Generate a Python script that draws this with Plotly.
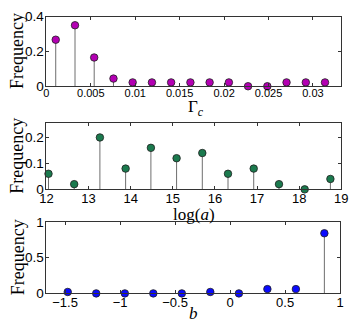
import plotly.graph_objects as go

# ---------------- data ----------------
gamma_c = [0.00105, 0.00322, 0.00538, 0.00755, 0.00971, 0.01188, 0.01404, 0.01621,
           0.01837, 0.02054, 0.02270, 0.02487, 0.02703, 0.02920, 0.03136]
gamma_freq = [0.267, 0.35, 0.165, 0.044, 0.022, 0.022, 0.022, 0.022,
              0.022, 0.022, 0.0, 0.0, 0.022, 0.022, 0.022]

log_a = [12.05, 12.66, 13.27, 13.88, 14.48, 15.09, 15.70, 16.31, 16.92, 17.52, 18.13, 18.74]
log_a_freq = [0.06, 0.02, 0.20, 0.08, 0.16, 0.12, 0.14, 0.06, 0.08, 0.02, 0.0, 0.04]

b_vals = [-1.476, -1.217, -0.957, -0.698, -0.439, -0.180, 0.080, 0.339, 0.598, 0.857]
b_freq = [0.02, 0.0, 0.0, 0.0, 0.0, 0.02, 0.0, 0.06, 0.06, 0.84]

# ---------------- layout helpers ----------------
W, H = 357, 331
def px_x(p):
    return p / W
def px_y(p):
    return 1 - p / H

panels = [
    dict(x=gamma_c, y=gamma_freq, color="#b300b3", xr=[0, 0.0332], yr=[0, 0.4],
         xt=[0, 0.005, 0.01, 0.015, 0.02, 0.025, 0.03], yt=[0, 0.2, 0.4],
         box=(41, 348, 10, 83), xfs=11),
    dict(x=log_a, y=log_a_freq, color="#1b7a4e", xr=[12, 19], yr=[0, 0.255],
         xt=[12, 13, 14, 15, 16, 17, 18, 19], yt=[0, 0.1, 0.2],
         box=(41, 348, 121.7, 191), xfs=13),
    dict(x=b_vals, y=b_freq, color="#0a0aff", xr=[-1.67, 1.0], yr=[0, 1],
         xt=[-1.5, -1, -0.5, 0, 0.5, 1], yt=[0, 0.5, 1],
         box=(41, 346.7, 225, 300), xfs=13),
]

fig = go.Figure()
layout = dict(width=W, height=H, margin=dict(l=0, r=0, t=0, b=0),
              paper_bgcolor="white", plot_bgcolor="white", showlegend=False)

for i, p in enumerate(panels):
    n = "" if i == 0 else str(i + 1)
    xa, ya = "x" + n, "y" + n
    sx, sy = [], []
    for xv, yv in zip(p["x"], p["y"]):
        sx += [xv, xv, None]
        sy += [0, yv, None]
    fig.add_trace(go.Scatter(x=sx, y=sy, mode="lines", xaxis=xa, yaxis=ya,
                             line=dict(color="#6e6e6e", width=1), hoverinfo="skip"))
    fig.add_trace(go.Scatter(x=p["x"], y=p["y"], mode="markers", xaxis=xa, yaxis=ya,
                             cliponaxis=False,
                             marker=dict(size=7.5, color=p["color"],
                                         line=dict(color="#202020", width=0.8))))
    l, r, t, b = p["box"]
    layout["xaxis" + n] = dict(
        domain=[px_x(l), px_x(r)], range=p["xr"], anchor=ya,
        tickvals=p["xt"], ticks="inside", ticklen=3, tickcolor="#333",
        showline=True, linecolor="#333", linewidth=1, mirror="ticks",
        showgrid=False, zeroline=False, ticklabelstandoff=-3,
        ticklabeloverflow="allow",
        tickfont=dict(family="Liberation Sans", size=p["xfs"], color="black"))
    layout["yaxis" + n] = dict(
        domain=[px_y(b), px_y(t)], range=p["yr"], anchor=xa,
        tickvals=p["yt"], ticks="inside", ticklen=3, tickcolor="#333",
        showline=True, linecolor="#333", linewidth=1, mirror="ticks",
        showgrid=False, zeroline=False, ticklabelstandoff=-1,
        ticklabeloverflow="allow",
        tickfont=dict(family="Liberation Sans", size=13.5, color="black"))

fig.update_layout(**layout)

serif = dict(family="Liberation Serif", size=18, color="black")
annots = []
for p in panels:
    l, r, t, b = p["box"]
    annots.append(dict(text="Frequency", x=px_x(11), y=px_y((t + b) / 2), xref="paper",
                       yref="paper", showarrow=False, textangle=-90, font=serif,
                       xanchor="center", yanchor="middle"))
tfont = dict(family="Liberation Serif", size=17, color="black")
annots.append(dict(text="Γ<sub><i>c</i></sub>", x=px_x(197), y=px_y(106), xref="paper",
                   yref="paper", showarrow=False, font=tfont,
                   xanchor="center", yanchor="middle"))
annots.append(dict(text="log(<i>a</i>)", x=px_x(195), y=px_y(217.5), xref="paper",
                   yref="paper", showarrow=False, font=tfont,
                   xanchor="center", yanchor="middle"))
annots.append(dict(text="<i>b</i>", x=px_x(194), y=px_y(321), xref="paper",
                   yref="paper", showarrow=False, font=tfont,
                   xanchor="center", yanchor="middle"))
fig.update_layout(annotations=annots)

fig.write_html("out.html",
               config={"displayModeBar": False},
               post_script="document.body.style.margin='0px';"
                           "document.body.style.overflow='hidden';")
